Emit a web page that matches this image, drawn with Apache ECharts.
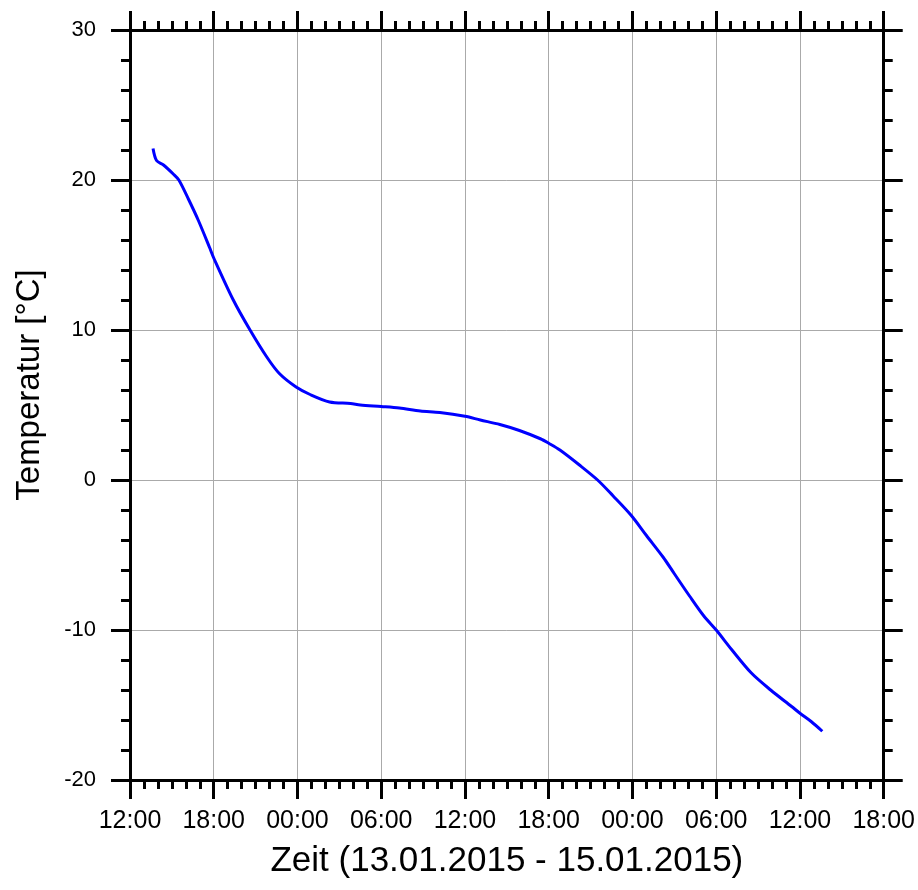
<!DOCTYPE html>
<html>
<head>
<meta charset="utf-8">
<script src="https://cdn.jsdelivr.net/npm/echarts@6/dist/echarts.min.js"></script>
<style>
  html, body { margin: 0; padding: 0; background: #ffffff; }
  #chart { width: 918px; height: 890px; }
</style>
</head>
<body>
<div id="chart"></div>
<script>
// Hours elapsed since 13.01.2015 12:00
const hours = [1.65, 1.9, 2.4, 3.1, 3.5, 4.2, 4.9, 5.7, 6.0, 7.4, 8.6, 9.8, 10.7, 11.9, 12.9, 14.3, 15.8, 16.5,
  18.0, 19.3, 20.8, 22.2, 24.0, 25.1, 26.5, 27.9, 29.4, 30.0, 30.8, 32.2, 33.5, 34.6, 35.9, 37.0, 38.2, 39.0,
  40.1, 41.1, 42.0, 43.1, 44.5, 45.9, 47.4, 48.0, 48.8, 49.6];
// Measured temperature in °C
const temps = [22.1, 21.3, 21.0, 20.4, 20.0, 18.7, 17.3, 15.5, 14.8, 12.0, 10.0, 8.2, 7.1, 6.2, 5.7, 5.2, 5.1, 5.0,
  4.9, 4.8, 4.6, 4.5, 4.25, 4.0, 3.7, 3.3, 2.75, 2.45, 2.0, 1.0, 0.0, -1.05, -2.35, -3.7, -5.15, -6.25,
  -7.75, -9.05, -10.0, -11.3, -12.85, -14.0, -15.1, -15.55, -16.1, -16.75];
// Time axis tick labels, one every 6 hours
const timeLabels = ['12:00', '18:00', '00:00', '06:00', '12:00', '18:00', '00:00', '06:00', '12:00', '18:00'];

const FONT = 'Liberation Sans, Arial, sans-serif';
const axisLine = { show: true, onZero: false, lineStyle: { color: '#000', width: 3 } };
const majorTick = { show: true, inside: false, length: 19, lineStyle: { color: '#000', width: 3 } };
const minorTickX = { show: true, splitNumber: 6, length: 9, lineStyle: { color: '#000', width: 3 } };
const minorTickY = { show: true, splitNumber: 5, length: 9, lineStyle: { color: '#000', width: 3 } };

const chart = echarts.init(document.getElementById('chart'), null, { renderer: 'canvas' });
chart.setOption({
  animation: false,
  backgroundColor: '#ffffff',
  grid: { left: 130, right: 34, top: 30, bottom: 110, containLabel: false },
  xAxis: [
    {
      type: 'value', position: 'bottom', min: 0, max: 54, interval: 6,
      name: 'Zeit (13.01.2015 - 15.01.2015)', nameLocation: 'middle', nameGap: 64,
      nameTextStyle: { fontFamily: FONT, fontSize: 35, color: '#000' },
      axisLine, axisTick: majorTick, minorTick: minorTickX,
      axisLabel: {
        margin: 29, fontFamily: FONT, fontSize: 25, color: '#000',
        formatter: v => timeLabels[Math.round(v / 6)]
      },
      splitLine: { show: true, lineStyle: { color: '#aaaaaa', width: 1 } }
    },
    {
      type: 'value', position: 'top', min: 0, max: 54, interval: 6,
      axisLine, axisTick: majorTick, minorTick: minorTickX,
      axisLabel: { show: false }, splitLine: { show: false }
    }
  ],
  yAxis: [
    {
      type: 'value', position: 'left', min: -20, max: 30, interval: 10,
      name: 'Temperatur [°C]', nameLocation: 'middle', nameGap: 84, nameRotate: 90,
      nameTextStyle: { fontFamily: FONT, fontSize: 33, color: '#000', padding: [0, 0, 0, 40] },
      axisLine, axisTick: majorTick, minorTick: minorTickY,
      axisLabel: { margin: 34, fontFamily: FONT, fontSize: 22, color: '#000' },
      splitLine: { show: true, lineStyle: { color: '#aaaaaa', width: 1 } }
    },
    {
      type: 'value', position: 'right', min: -20, max: 30, interval: 10,
      axisLine, axisTick: majorTick, minorTick: minorTickY,
      axisLabel: { show: false }, splitLine: { show: false }
    }
  ],
  series: [{
    type: 'line',
    xAxisIndex: 0, yAxisIndex: 0,
    data: hours.map((h, i) => [h, temps[i]]),
    showSymbol: false,
    smooth: 0.3,
    lineStyle: { color: '#0000ff', width: 3 }
  }]
});
</script>
</body>
</html>
